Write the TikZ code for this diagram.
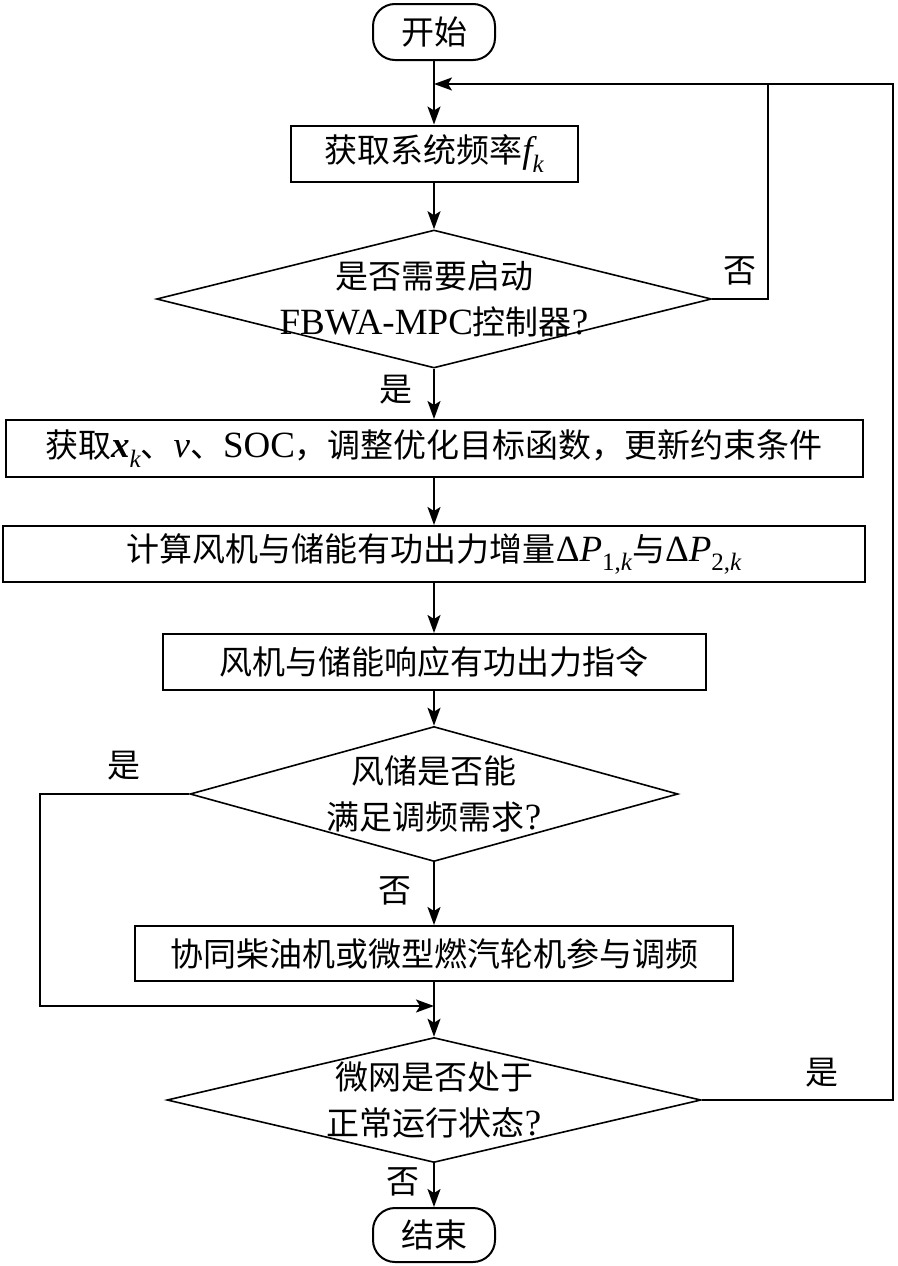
\documentclass[tikz,border=0pt]{standalone}
\usepackage{fontspec}
\setmainfont{Liberation Serif}
\newfontfamily\cjk{Noto Sans CJK SC}
\usetikzlibrary{shapes.geometric, arrows.meta}
\newcommand{\lat}[1]{{\rmfamily\fontsize{37}{45}\selectfont #1}}
\newcommand{\ital}[1]{{\rmfamily\itshape\fontsize{37}{45}\selectfont #1}}
\newcommand{\sub}[1]{\raisebox{-0.28em}{\rmfamily\fontsize{25}{25}\selectfont #1}}
\tikzset{
  base/.style={font=\cjk\fontsize{33}{46}\selectfont},
  proc/.style={base, draw, line width=2pt, inner sep=0, minimum height=56},
  term/.style={proc, rounded corners=22, minimum width=122},
  decision/.style={draw, diamond, line width=1.6pt, inner sep=0},
  dtext/.style={label={[base, align=center]center:{#1}}},
  line/.style={line width=1.8pt},
  arr/.style={line, -{Stealth[length=18pt,width=13pt,inset=4pt]}}
}

\begin{document}
\begin{tikzpicture}[x=1pt, y=-1pt]
\useasboundingbox (0,0) rectangle (897,1266);
\node[term] (start) at (434,32) {开始};
\node[proc, minimum width=287] (getf) at (434,153.5) {获取系统频率\ital{f}\sub{\itshape k}};
\node[decision, minimum width=555, minimum height=138,
  dtext={是否需要启动\\\lat{FBWA-MPC}控制器\lat{?}}] (dmpc) at (434,299) {};
\node[proc, minimum width=857, minimum height=57] (getx) at (434,448.5)
  {获取{\rmfamily\bfseries\itshape\fontsize{37}{45}\selectfont x}\sub{\itshape k}、\ital{v}、\lat{SOC}，调整优化目标函数，更新约束条件};
\node[proc, minimum width=862] (calc) at (434,554)
  {计算风机与储能有功出力增量\lat{Δ}\ital{P}\sub{1,\itshape k}与\lat{Δ}\ital{P}\sub{2,\itshape k}};
\node[proc, minimum width=543] (resp) at (434,662) {风机与储能响应有功出力指令};
\node[decision, minimum width=488, minimum height=135,
  dtext={风储是否能\\满足调频需求\lat{?}}] (dmeet) at (434,794) {};
\node[proc, minimum width=598, minimum height=55] (coop) at (434,953.5) {协同柴油机或微型燃汽轮机参与调频};
\node[decision, minimum width=534, minimum height=125,
  dtext={微网是否处于\\正常运行状态\lat{?}}] (dnorm) at (434,1100) {};
\node[term, minimum height=54] (stop) at (434,1235) {结束};

\node[base] (no1) at (740,271) {否};
\node[base] (yes1) at (396,390) {是};
\node[base] (yes2) at (124,766) {是};
\node[base] (no2) at (395,891) {否};
\node[base] (yes3) at (822,1073) {是};
\node[base] (no3) at (403,1182) {否};

\coordinate (jtop) at (434,84);
\coordinate (jmid) at (434,1006);
\coordinate (loopa) at (768,84);
\coordinate (loopb) at (893,84);
\coordinate (loopc) at (40,1006);

\draw[arr] (start) -- (getf);
\draw[arr] (getf) -- (dmpc);
\draw[arr] (dmpc) -- (getx);
\draw[arr] (getx) -- (calc);
\draw[arr] (calc) -- (resp);
\draw[arr] (resp) -- (dmeet);
\draw[arr] (dmeet) -- (coop);
\draw[arr] (coop) -- (dnorm);
\draw[arr] (dnorm) -- (stop);
\draw[line] (dmpc.east) -| (loopa);
\draw[arr] (dnorm.east) -| (loopb) -- (jtop);
\draw[arr] (dmeet.west) -| (loopc) -- (jmid);
\end{tikzpicture}
\end{document}
